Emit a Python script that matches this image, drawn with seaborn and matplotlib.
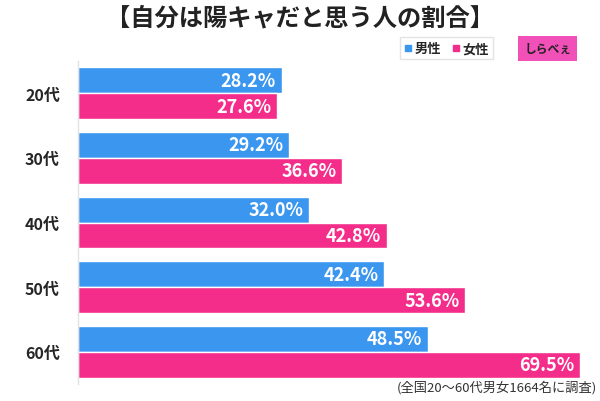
import pandas as pd
import seaborn as sns
import matplotlib.pyplot as plt
from matplotlib.lines import Line2D

ages = ["20代", "30代", "40代", "50代", "60代"]
male = [28.2, 29.2, 32.0, 42.4, 48.5]
female = [27.6, 36.6, 42.8, 53.6, 69.5]
series = ["男性", "女性"]

title = "【自分は陽キャだと思う人の割合】"
note = "(全国20〜60代男女1664名に調査)"

blue = "#3a96ef"
pink = "#f52d8a"

sns.set_style("white")
plt.rcParams["font.family"] = ["Noto Sans CJK JP", "DejaVu Sans"]

df = pd.DataFrame({
    "age": ages * 2,
    "value": male + female,
    "sex": [series[0]] * len(ages) + [series[1]] * len(ages),
})

fig = plt.figure(figsize=(6, 4.02), dpi=100)
ax = fig.add_axes([0.13, 0.042, 0.842, 0.804])

sns.barplot(
    data=df,
    y="age",
    x="value",
    hue="sex",
    order=ages,
    hue_order=series,
    orient="h",
    palette=[blue, pink],
    saturation=1,
    width=0.8,
    ax=ax,
)

ax.set_xlim(0, 70)
ax.set_ylim(4.5, -0.5)
ax.set_xlabel("")
ax.set_ylabel("")
ax.set_xticks([])
ax.tick_params(axis="y", length=0, pad=13, labelsize=11.5)
for lbl in ax.get_yticklabels():
    lbl.set_fontweight("bold")

for side in ["top", "right", "bottom"]:
    ax.spines[side].set_visible(False)
ax.spines["left"].set_color("#e2e2e2")
ax.spines["left"].set_linewidth(1)

for c in ax.containers:
    texts = ax.bar_label(
        c,
        labels=[f"{v:.1f}%" for v in c.datavalues],
        padding=-4,
        color="white",
        fontsize=13,
        fontweight="bold",
    )
    for t in texts:
        t.set_ha("right")

ax.get_legend().remove()

handles = [
    Line2D([], [], marker="s", linestyle="", color=blue, markersize=4),
    Line2D([], [], marker="s", linestyle="", color=pink, markersize=4),
]
fig.legend(
    handles,
    series,
    loc="center",
    bbox_to_anchor=(0.744, 0.877),
    ncol=2,
    frameon=True,
    fancybox=False,
    edgecolor="#dddddd",
    handlelength=0.6,
    handletextpad=0.2,
    columnspacing=0.8,
    borderpad=0.3,
    prop={"weight": "bold", "size": 9.5},
)

fig.text(
    0.5, 0.955, title,
    ha="center", va="center",
    fontsize=17.5, fontweight="bold", color="#222222",
)

fig.text(
    0.913, 0.877, "しらべぇ",
    ha="center", va="center",
    fontsize=8.5, fontweight="bold", color="#222222",
    bbox=dict(boxstyle="square,pad=0.5", fc="#f050b8", ec="none"),
)

fig.text(
    0.995, 0.035, note,
    ha="right", va="center",
    fontsize=9.5, color="#333333",
)

plt.savefig("out.png", dpi=100)
plt.close()
